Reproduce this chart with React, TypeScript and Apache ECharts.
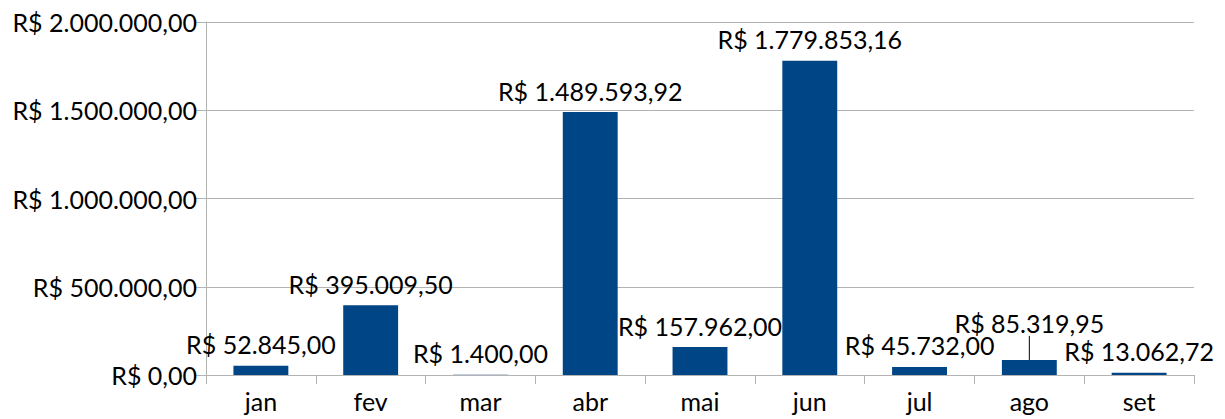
import React, { useEffect, useRef } from "react";
import * as echarts from "echarts";

const categories = ["jan", "fev", "mar", "abr", "mai", "jun", "jul", "ago", "set"];
const values = [52845.0, 395009.5, 1400.0, 1489593.92, 157962.0, 1779853.16, 45732.0, 85319.95, 13062.72];
const yTicks = { min: 0, max: 2000000, interval: 500000 };
const movedLabelIndex = 7;

function brl(v: number): string {
  const fixed = Math.abs(v).toFixed(2);
  const [intPart, dec] = fixed.split(".");
  const withDots = intPart.replace(/\B(?=(\d{3})+(?!\d))/g, ".");
  return "R$ " + (v < 0 ? "-" : "") + withDots + "," + dec;
}

const FONT = "Lato";
const FS = 25;

export default function App() {
  const ref = useRef<HTMLDivElement>(null);
  useEffect(() => {
    if (!ref.current) return;
    const chart = echarts.init(ref.current, undefined, { renderer: "svg" });
    chart.setOption({
      animation: false,
      backgroundColor: "#ffffff",
      grid: { left: 206, right: 31, top: 22, bottom: 44 },
      xAxis: {
        type: "category",
        data: categories,
        axisLine: { lineStyle: { color: "#b3b3b3", width: 1 } },
        axisTick: { show: true, length: 9, lineStyle: { color: "#b3b3b3" } },
        axisLabel: { color: "#000", fontFamily: FONT, fontSize: FS, margin: 13 },
      },
      yAxis: {
        type: "value",
        min: yTicks.min,
        max: yTicks.max,
        interval: yTicks.interval,
        axisLine: { show: true, lineStyle: { color: "#b3b3b3", width: 1 } },
        axisTick: { show: true, length: 12, lineStyle: { color: "#b3b3b3" } },
        splitLine: { lineStyle: { color: "#b3b3b3", width: 1 } },
        axisLabel: {
          color: "#000",
          fontFamily: FONT,
          fontSize: FS,
          margin: 9,
          formatter: (v: number) => brl(v),
        },
      },
      series: [
        {
          type: "bar",
          data: values.map((v, i) =>
            i === movedLabelIndex
              ? { value: v, labelLine: { show: true, lineStyle: { color: "#000", width: 1 } } }
              : { value: v, labelLine: { show: false } }
          ),
          barWidth: "50%",
          itemStyle: { color: "#004586" },
          label: {
            show: true,
            position: "top",
            distance: 9,
            color: "#000",
            fontFamily: FONT,
            fontSize: FS,
            formatter: (p: any) => brl(p.value),
          },
          labelLine: { show: false },
          labelLayout: (params: any) => (params.dataIndex === movedLabelIndex ? { dy: -15 } : {}),
        },
      ],
    });
    return () => chart.dispose();
  }, []);
  return (
    <div
      ref={ref}
      style={{ position: "fixed", left: 0, top: 0, width: 1225, height: 419 }}
    />
  );
}
